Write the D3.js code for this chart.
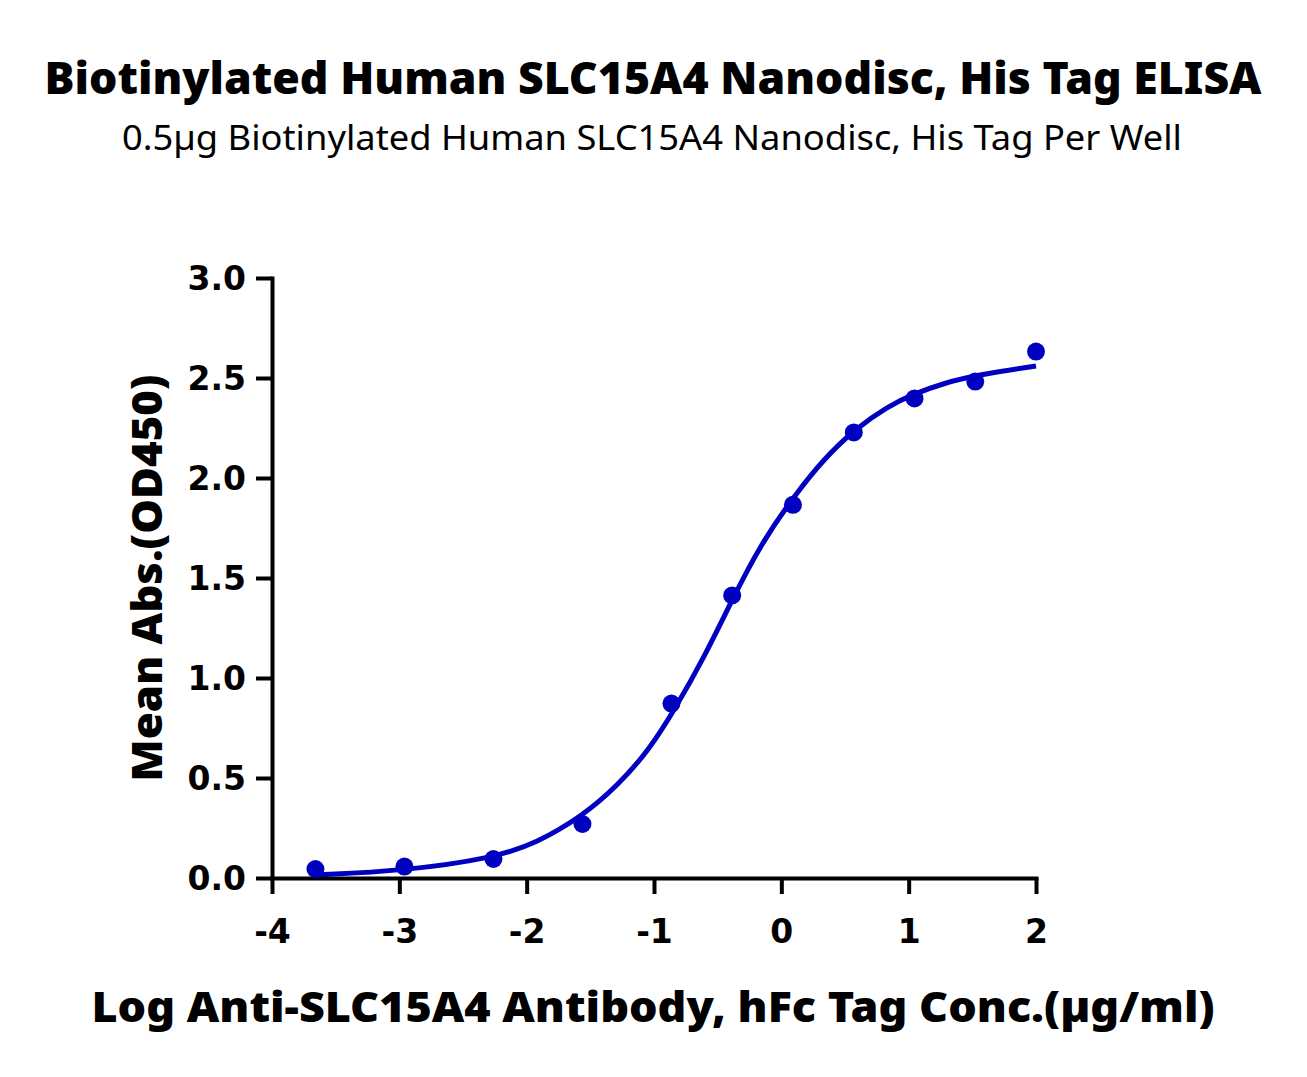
<!DOCTYPE html>
<html>
<head>
<meta charset="UTF-8">
<script src="https://cdn.jsdelivr.net/npm/d3@7"></script>
<style>
body { margin: 0; background: #fff; }
</style>
</head>
<body>
<script>

var width = 1307;
var height = 1077;

// measured points: log conc (µg/ml) and mean OD450
var logConc = [-3.659, -2.960, -2.261, -1.562, -0.863, -0.386, 0.091, 0.569, 1.046, 1.523, 2.0];
var meanAbs = [0.045, 0.057, 0.095, 0.27, 0.872, 1.413, 1.866, 2.228, 2.398, 2.482, 2.632];

// fitted curve
var fitX = [-3.66, -2.96, -2.26, -1.92, -1.56, -1.28, -1.04, -0.84, -0.6, -0.38, -0.16, 0.1, 0.34, 0.58, 0.84, 1.04, 1.28, 1.54, 2.0];
var fitY = [0.015, 0.036, 0.1, 0.175, 0.31, 0.465, 0.64, 0.84, 1.11, 1.40, 1.67, 1.91, 2.10, 2.245, 2.36, 2.42, 2.475, 2.515, 2.56];

var xTicks = [-4, -3, -2, -1, 0, 1, 2];
var yTicks = [0, 0.5, 1.0, 1.5, 2.0, 2.5, 3.0];

var blue = "#0000c0";

var svg = d3.select('body')
    .append('svg')
    .attr('width', width)
    .attr('height', height);

var x = d3.scaleLinear().domain([-4, 2]).range([272, 1036]);
var y = d3.scaleLinear().domain([0, 3]).range([878, 278]);

// titles
svg.append("text")
    .attr("x", 653).attr("y", 94)
    .attr("text-anchor", "middle")
    .attr("font-family", "Noto Sans")
    .attr("font-weight", "900")
    .attr("font-size", 45)
    .attr("textLength", 1217)
    .attr("lengthAdjust", "spacingAndGlyphs")
    .text("Biotinylated Human SLC15A4 Nanodisc, His Tag ELISA");

svg.append("text")
    .attr("x", 652).attr("y", 150)
    .attr("text-anchor", "middle")
    .attr("font-family", "Noto Sans")
    .attr("font-size", 35)
    .attr("textLength", 1060)
    .attr("lengthAdjust", "spacingAndGlyphs")
    .text("0.5µg Biotinylated Human SLC15A4 Nanodisc, His Tag Per Well");

// axes
var xAxis = svg.append("g")
    .attr("transform", "translate(0," + 878 + ")")
    .call(d3.axisBottom(x).tickValues(xTicks).tickSize(16).tickSizeOuter(0).tickPadding(26)
        .tickFormat(function(d) { return String(d); }));

var yAxis = svg.append("g")
    .attr("transform", "translate(" + 272 + ",0)")
    .call(d3.axisLeft(y).tickValues(yTicks).tickSize(16).tickSizeOuter(0).tickPadding(10).tickFormat(d3.format(".1f")));

svg.selectAll(".domain, .tick line")
    .attr("stroke", "#000")
    .attr("stroke-width", 4);
svg.selectAll(".domain").attr("stroke-linecap", "square");

xAxis.selectAll("text")
    .attr("font-family", "DejaVu Sans")
    .attr("font-weight", "bold")
    .attr("font-size", 33)
    .attr("fill", "#000");

yAxis.selectAll("text")
    .attr("font-family", "DejaVu Sans")
    .attr("font-weight", "bold")
    .attr("font-size", 33)
    .attr("dy", "0.36em")
    .attr("fill", "#000");

// axis titles
svg.append("text")
    .attr("x", 653).attr("y", 1022)
    .attr("text-anchor", "middle")
    .attr("font-family", "Noto Sans")
    .attr("font-weight", "900")
    .attr("font-size", 43)
    .attr("textLength", 1123)
    .attr("lengthAdjust", "spacingAndGlyphs")
    .text("Log Anti-SLC15A4 Antibody, hFc Tag Conc.(µg/ml)");

svg.append("text")
    .attr("transform", "translate(162,578) rotate(-90)")
    .attr("text-anchor", "middle")
    .attr("font-family", "Noto Sans")
    .attr("font-weight", "900")
    .attr("font-size", 43)
    .attr("textLength", 407)
    .attr("lengthAdjust", "spacingAndGlyphs")
    .text("Mean Abs.(OD450)");

// fit line
var line = d3.line()
    .x(function(d) { return x(d[0]); })
    .y(function(d) { return y(d[1]); })
    .curve(d3.curveBasis);

svg.append("path")
    .datum(d3.zip(fitX, fitY))
    .attr("d", line)
    .attr("fill", "none")
    .attr("stroke", blue)
    .attr("stroke-width", 5);

// points
svg.selectAll(".pt")
    .data(d3.zip(logConc, meanAbs))
    .enter().append("circle")
    .attr("class", "pt")
    .attr("cx", function(d) { return x(d[0]); })
    .attr("cy", function(d) { return y(d[1]); })
    .attr("r", 9)
    .attr("fill", blue);

</script>
</body>
</html>
